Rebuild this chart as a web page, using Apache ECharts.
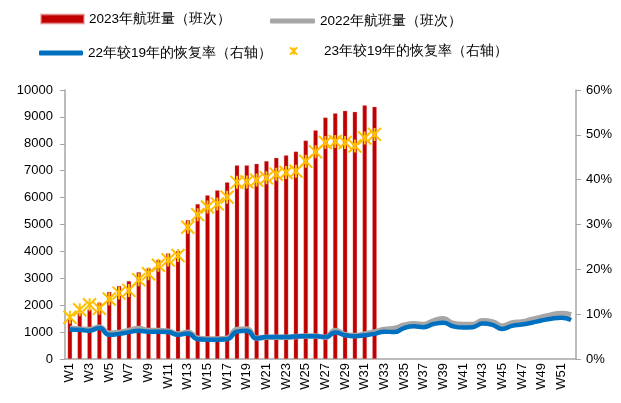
<!DOCTYPE html>
<html>
<head>
<meta charset="utf-8">
<script src="https://cdn.jsdelivr.net/npm/echarts@6/dist/echarts.min.js"></script>
<style>
  html, body { margin: 0; padding: 0; background: #fff; }
  #main { width: 621px; height: 403px; }
</style>
</head>
<body>
<div id="main"></div>
<script>
var weeks = [];
for (var i = 1; i <= 52; i++) weeks.push('W' + i);

// 2023年航班量（班次）, W1-W32
var flights2023 = [1500, 1700, 1850, 2100, 2500, 2720, 2900, 3230, 3380, 3690, 3930, 4020,
  5170, 5760, 6090, 6270, 6570, 7200, 7200, 7260, 7360, 7480, 7570, 7710,
  8120, 8500, 8980, 9140, 9230, 9190, 9430, 9380];

// 2022年航班量（班次）
var flights2022 = [1144, 1119, 1095, 1182, 958, 983, 1057, 1132, 1057, 1057, 1032, 933,
  995, 771, 746, 746, 771, 1095, 1119, 771, 808, 808, 808, 833,
  858, 858, 808, 1057, 908, 870, 933, 1007, 1095, 1132, 1256, 1306,
  1281, 1418, 1493, 1318, 1281, 1281, 1418, 1381, 1219, 1343, 1381, 1468,
  1555, 1642, 1692, 1642];

// 22年较19年的恢复率（%）
var recovery22 = [6.6, 6.5, 6.3, 6.9, 5.4, 5.6, 6.0, 6.3, 6.1, 6.1, 6.0, 5.4,
  5.7, 4.4, 4.3, 4.3, 4.4, 6.1, 6.3, 4.6, 4.9, 4.9, 4.9, 5.0,
  5.1, 5.1, 4.9, 5.9, 5.3, 5.1, 5.3, 5.6, 6.1, 6.0, 6.9, 7.3,
  7.1, 7.8, 8.1, 7.3, 7.0, 7.1, 7.9, 7.6, 6.7, 7.4, 7.7, 8.1,
  8.6, 9.0, 9.2, 8.7];

// 23年较19年的恢复率（%）
var recovery23 = [9.3, 11.0, 12.1, 11.3, 13.4, 14.7, 15.3, 17.7, 19.0, 20.9, 22.1, 23.1,
  29.4, 32.2, 33.9, 34.6, 36.1, 39.4, 39.5, 39.9, 40.4, 41.2, 41.6, 41.9,
  44.1, 46.2, 48.3, 48.5, 48.3, 47.5, 49.3, 50.1];

var asterisk = 'path://M0,0L10,10M10,0L0,10M5,0L5,10';
var font = 'Liberation Sans, Arial, sans-serif';
var txt = { color: '#000', fontSize: 13.5, fontFamily: font };

var chart = echarts.init(document.getElementById('main'));
chart.setOption({
  animation: false,
  legend: [
    { left: 40, top: 12, padding: 0, itemWidth: 43, itemHeight: 9, icon: 'rect', textStyle: txt, data: ['2023年航班量（班次）'] },
    { left: 270, top: 14, padding: 0, itemWidth: 45, itemHeight: 5, icon: 'roundRect', textStyle: txt, data: ['2022年航班量（班次）'] },
    { left: 39, top: 46, padding: 0, itemWidth: 44, itemHeight: 5, icon: 'roundRect', textStyle: txt, data: ['22年较19年的恢复率（右轴）'] },
    { left: 289, top: 44, padding: 0, itemWidth: 9, itemHeight: 9, textStyle: Object.assign({ padding: [0, 0, 0, 21] }, txt), data: ['23年较19年的恢复率（右轴）'] }
  ],
  grid: { left: 65, right: 45, top: 90, bottom: 44 },
  xAxis: {
    type: 'category',
    data: weeks,
    axisLine: { lineStyle: { color: '#A6A6A6', width: 1.5 } },
    axisTick: { lineStyle: { color: '#A6A6A6' }, length: 5 },
    axisLabel: { interval: 1, rotate: 90, color: '#000', fontSize: 13, fontFamily: font, margin: 4 }
  },
  yAxis: [
    {
      type: 'value', min: 0, max: 10000, interval: 1000,
      splitLine: { show: false },
      axisLine: { show: true, lineStyle: { color: '#A6A6A6', width: 1.5 } },
      axisTick: { show: true, length: 5, lineStyle: { color: '#A6A6A6' } },
      axisLabel: { color: '#000', fontSize: 13, fontFamily: font, margin: 12, formatter: function (v) { return String(v); } }
    },
    {
      type: 'value', min: 0, max: 60, interval: 10,
      splitLine: { show: false },
      axisLine: { show: true, lineStyle: { color: '#A6A6A6', width: 1.5 } },
      axisTick: { show: true, length: 5, lineStyle: { color: '#A6A6A6' } },
      axisLabel: { color: '#000', fontSize: 13, fontFamily: font, margin: 10, formatter: '{value}%' }
    }
  ],
  series: [
    {
      name: '2023年航班量（班次）',
      type: 'bar',
      data: flights2023,
      barWidth: 4.5,
      itemStyle: { color: '#C00000', borderColor: 'rgba(230,150,150,0.6)', borderWidth: 0.5 }
    },
    {
      name: '2022年航班量（班次）',
      type: 'line',
      data: flights2022,
      smooth: true,
      symbol: 'none',
      itemStyle: { color: '#A6A6A6' },
      lineStyle: { color: '#A6A6A6', width: 5.5 }
    },
    {
      name: '22年较19年的恢复率（右轴）',
      type: 'line',
      yAxisIndex: 1,
      data: recovery22,
      smooth: true,
      symbol: 'none',
      itemStyle: { color: '#0070C0' },
      lineStyle: { color: '#0070C0', width: 4.5 }
    },
    {
      name: '23年较19年的恢复率（右轴）',
      type: 'line',
      yAxisIndex: 1,
      data: recovery23,
      symbol: asterisk,
      symbolSize: 13,
      showAllSymbol: true,
      lineStyle: { width: 0, opacity: 0 },
      itemStyle: { color: '#FFC000', borderColor: '#FFC000', borderWidth: 2 },
      z: 5
    }
  ]
});
</script>
</body>
</html>
